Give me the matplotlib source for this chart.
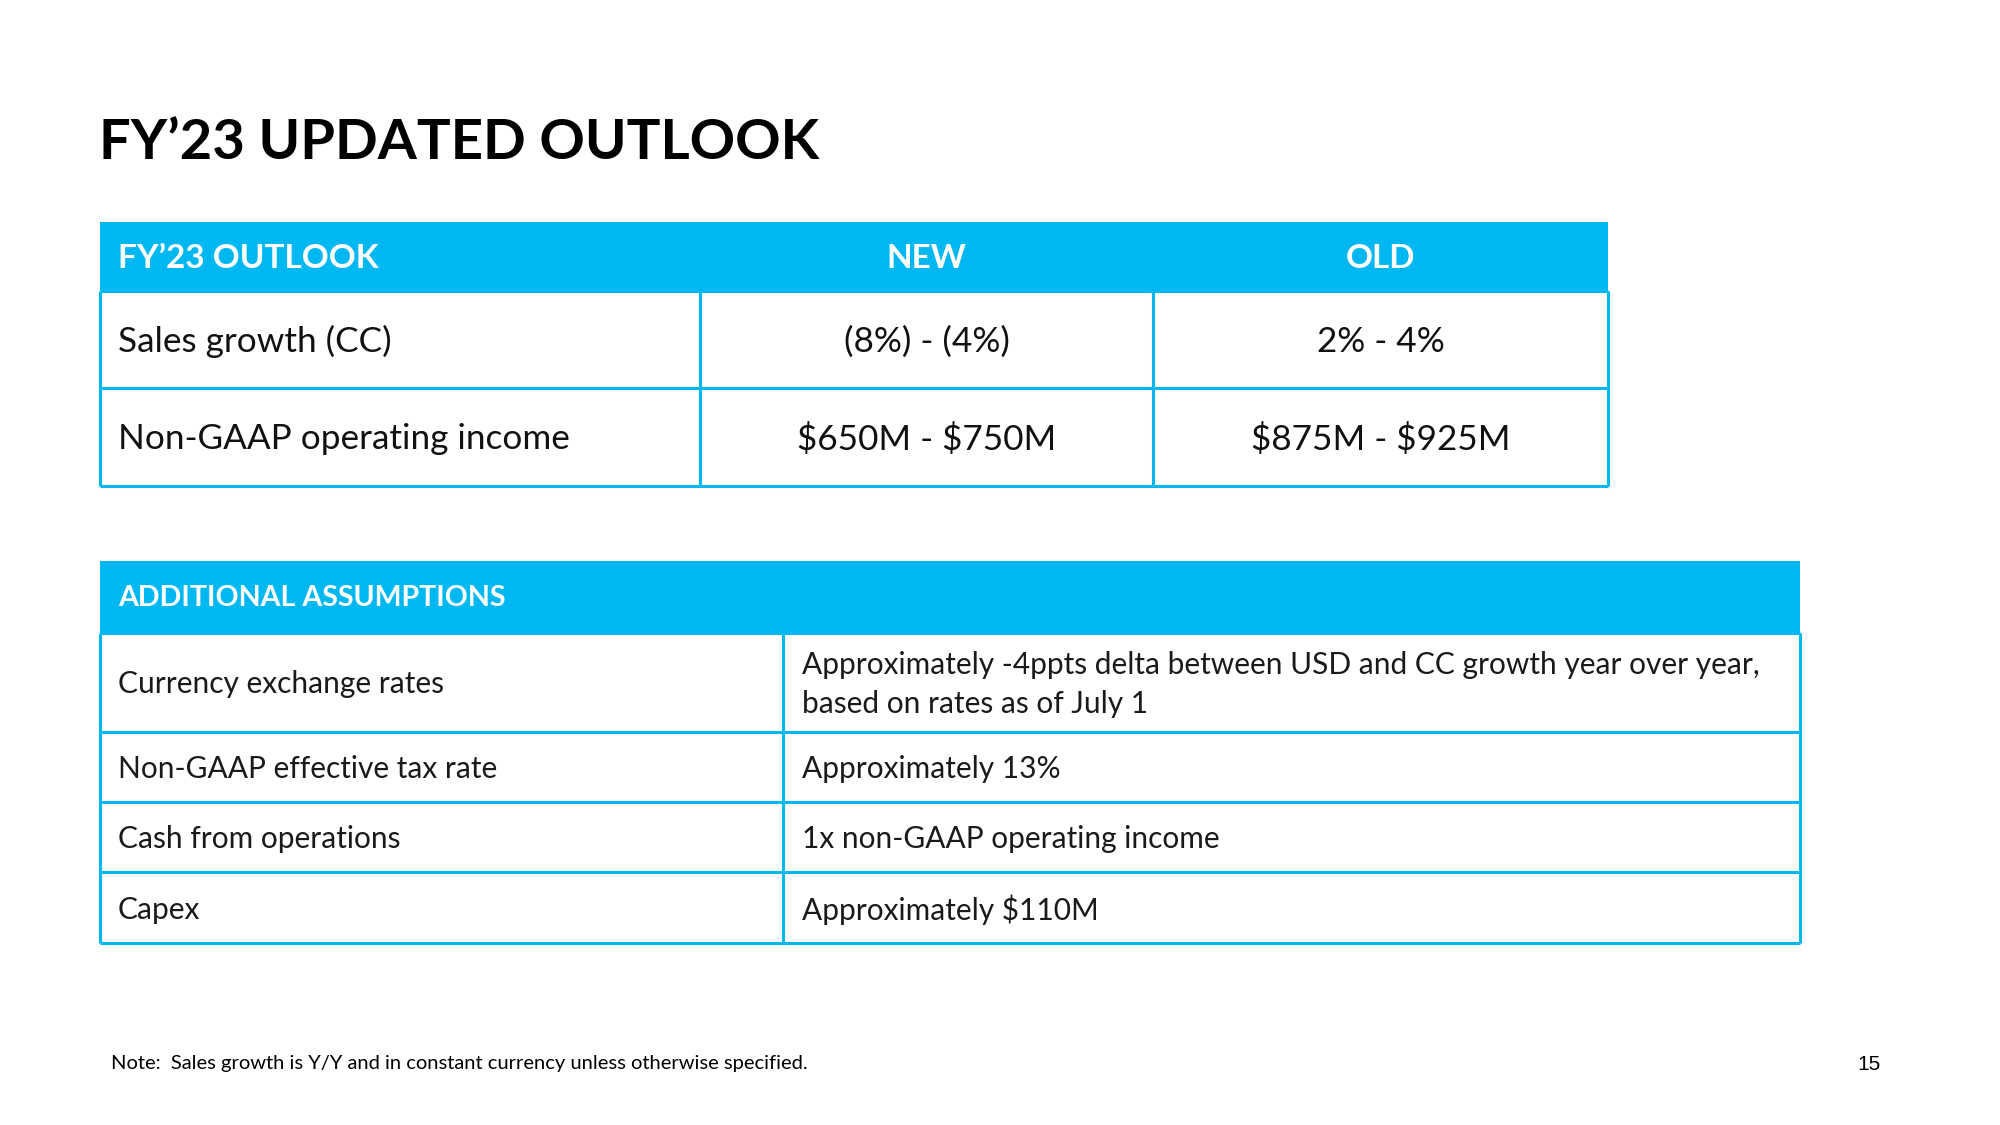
import matplotlib
matplotlib.use("Agg")
import matplotlib.pyplot as plt
from matplotlib.patches import Rectangle

BLUE = "#00B8F1"
FONT = "Lato"

title = "FY\u201923 UPDATED OUTLOOK"

# outlook table
outlook_cols = ["FY\u201923 OUTLOOK", "NEW", "OLD"]
outlook_rows = ["Sales growth (CC)", "Non-GAAP operating income"]
outlook_new = ["(8%) - (4%)", "$650M - $750M"]
outlook_old = ["2% - 4%", "$875M - $925M"]

# assumptions table
assump_header = "ADDITIONAL ASSUMPTIONS"
assump_items = ["Currency exchange rates", "Non-GAAP effective tax rate",
                "Cash from operations", "Capex"]
assump_values = ["Approximately -4ppts delta between USD and CC growth year over year,\nbased on rates as of July 1",
                 "Approximately 13%", "1x non-GAAP operating income", "Approximately $110M"]

note = "Note:  Sales growth is Y/Y and in constant currency unless otherwise specified."
page = "15"

fig = plt.figure(figsize=(20, 11.25), dpi=100)
ax = fig.add_axes([0, 0, 1, 1])
ax.set_xlim(0, 2000)
ax.set_ylim(1125, 0)
ax.axis("off")


def txt(x, y, s, size, bold=False, color="#111111", ha="left", **kw):
    ax.text(x, y, s, fontsize=size, fontweight="bold" if bold else "normal", family=FONT,
            color=color, va="center", ha=ha, parse_math=False, **kw)


txt(99, 143, title, 40.5, bold=True, color="black")

# ── table 1 ───────────────────────────────────────────────
L, R = 99.5, 1608
xs = [L, 700, 1153, R]
ys = [222, 291, 388, 486]
ax.add_patch(Rectangle((L, ys[0]), R - L, ys[1] - ys[0], color=BLUE, lw=0, zorder=1))
hy = (ys[0] + ys[1]) / 2 + 2
txt(118, hy, outlook_cols[0], 24, bold=True, color="white")
for i in (1, 2):
    txt((xs[i] + xs[i + 1]) / 2, hy, outlook_cols[i], 24, bold=True, color="white", ha="center")
for r, (lab, new, old) in enumerate(zip(outlook_rows, outlook_new, outlook_old)):
    yc = (ys[r + 1] + ys[r + 2]) / 2 + 2
    txt(118, yc, lab, 25.3)
    txt((xs[1] + xs[2]) / 2, yc, new, 25.3, ha="center")
    txt((xs[2] + xs[3]) / 2, yc, old, 25.3, ha="center")
lw = 2.2
for y in ys[1:]:
    ax.plot([L, R], [y, y], color=BLUE, lw=lw, solid_capstyle="butt", zorder=2)
for x in xs:
    ax.plot([x, x], [ys[1], ys[-1]], color=BLUE, lw=lw, solid_capstyle="butt", zorder=2)

# ── table 2 ───────────────────────────────────────────────
L2, R2 = 99.5, 1800
xs2 = [L2, 783, R2]
ys2 = [561, 633, 732, 802, 872, 943]
ax.add_patch(Rectangle((L2, ys2[0]), R2 - L2, ys2[1] - ys2[0], color=BLUE, lw=0, zorder=1))
txt(118, (ys2[0] + ys2[1]) / 2 + 1, assump_header, 20.6, bold=True, color="white")
for r, (item, val) in enumerate(zip(assump_items, assump_values)):
    yc = (ys2[r + 1] + ys2[r + 2]) / 2 + 2
    txt(118, yc, item, 21.5, color="#1a1a1a")
    txt(802, yc, val, 21.5, color="#1a1a1a", linespacing=1.5)
for y in ys2[1:]:
    ax.plot([L2, R2], [y, y], color=BLUE, lw=lw, solid_capstyle="butt", zorder=2)
for x in xs2:
    ax.plot([x, x], [ys2[1], ys2[-1]], color=BLUE, lw=lw, solid_capstyle="butt", zorder=2)

txt(111, 1063, note, 14.5, color="black")
ax.text(1869, 1064, page, fontsize=15, family="Liberation Sans", va="center", ha="center", color="black")

fig.savefig("out.png", dpi=100)
